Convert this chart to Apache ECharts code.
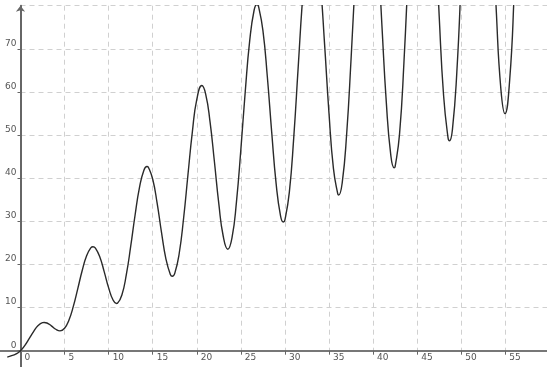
<!DOCTYPE html>
<html>
<head>
<meta charset="utf-8">
<script src="https://cdn.jsdelivr.net/npm/echarts@6/dist/echarts.min.js"></script>
<style>html,body{margin:0;padding:0;background:#fff}#c{width:547px;height:367px}</style>
</head>
<body>
<div id="c"></div>
<script>
// x positions of the traced curve points (including turning points)
var xValues = [-1.5,-1,-0.5,0,0.5,1,1.5,2,2.5,2.695,3,3.5,4,4.48,5,5.5,6,6.5,7,7.5,8,8.22,8.5,9,9.5,10,10.5,10.905,11,11.5,12,12.5,13,13.5,14,14.346,14.5,15,15.5,16,16.5,17,17.22,17.5,18,18.5,19,19.5,20,20.57,21,21.5,22,22.5,23,23.52,24,24.5,25,25.5,26,26.5,26.82,27,27.5,28,28.5,29,29.5,29.81,30,30.5,31,31.5,32,32.5,33,33.5,34,34.5,35,35.5,36,36.1,36.5,37,37.5,38,38.5,39,39.5,40,40.5,41,41.5,42,42.39,42.5,43,43.5,44,44.5,45,45.5,46,46.5,47,47.5,48,48.5,48.67,49,49.5,50,50.5,51,51.5,52,52.5,53,53.5,54,54.5,54.96,55.5,56,56.5,57,57.5,58,58.5,59,59.5,60];
// y values (peaks beyond 80 continue past the top edge)
var yValues = [-1.504,-1.159,-0.760,0,1.240,2.842,4.496,5.819,6.496,6.554,6.423,5.772,4.973,4.600,5.206,7.120,10.324,14.398,18.599,22.035,23.915,24.110,23.787,21.709,18.286,14.560,11.763,10.950,11.000,12.932,17.561,24.171,31.463,37.851,41.868,42.730,42.556,39.755,34.201,27.394,21.255,17.656,17.250,17.927,22.482,30.664,40.848,50.807,58.258,61.490,59.571,53.139,43.804,34.038,26.537,23.540,26.266,34.511,46.690,60.157,71.828,78.946,80.280,79.823,74.264,63.585,50.622,38.756,31.241,29.830,30.360,36.786,49.476,65.649,81.645,93.727,98.997,96.185,85.989,70.984,55.013,42.281,36.295,36.110,38.993,50.191,67.583,87.263,104.643,115.588,117.461,109.804,94.535,75.497,57.581,45.507,42.400,42.666,50.233,66.825,88.779,111.023,128.291,136.432,133.478,120.170,99.809,77.553,59.122,49.412,48.680,51.264,64.578,86.880,112.746,136.180,151.621,155.303,146.433,126.983,102.025,77.825,60.604,54.970,62.893,82.790,110.248,138.863,161.817,173.588,171.311,155.565,130.251,101.712];
// axis windows: labelled quadrant and the full visible window
var xLabelRange = [0, 59.73];
var yLabelRange = [0, 80];
var xFullRange = [-2.326, 59.73];
var yFullRange = [-3.78, 80];

var pts = xValues.map(function (x, i) { return [x, yValues[i]]; });
var chart = echarts.init(document.getElementById('c'), null, {renderer: 'canvas'});
var labelFont = {fontFamily: 'DejaVu Sans', fontSize: 9, color: '#555'};
var dashed = {show: true, lineStyle: {color: '#d0d0d0', type: [5, 4], width: 1}};
chart.setOption({
  animation: false,
  backgroundColor: '#fff',
  grid: [
    {left: 20.5, right: 0, top: 5.7, bottom: 16.3, containLabel: false},
    {left: 0, right: 0, top: 5.7, bottom: 0, containLabel: false,
     outerBounds: {left: -200, right: -200, top: -200, bottom: -200}}
  ],
  xAxis: [{
    gridIndex: 0, type: 'value', min: xLabelRange[0], max: xLabelRange[1], interval: 5,
    axisLine: {show: false},
    axisTick: {show: true, length: 4, lineStyle: {color: '#666', width: 1}},
    axisLabel: Object.assign({align: 'left', margin: 2, padding: [0, 0, 0, 4], showMaxLabel: false}, labelFont),
    splitLine: dashed
  }, {
    gridIndex: 1, type: 'value', min: xFullRange[0], max: xFullRange[1],
    axisLine: {onZero: true, lineStyle: {color: '#777', width: 2}},
    axisTick: {show: false}, axisLabel: {show: false}, splitLine: {show: false}
  }],
  yAxis: [{
    gridIndex: 0, type: 'value', min: yLabelRange[0], max: yLabelRange[1], interval: 10,
    axisLine: {show: false},
    axisTick: {show: true, length: 3, lineStyle: {color: '#666', width: 1}},
    axisLabel: Object.assign({align: 'right', verticalAlign: 'bottom', margin: 4, padding: [0, 0, 1, 0], showMaxLabel: false}, labelFont),
    splitLine: dashed
  }, {
    gridIndex: 1, type: 'value', min: yFullRange[0], max: yFullRange[1],
    axisLine: {onZero: true, lineStyle: {color: '#666', width: 2}, symbol: ['none', 'arrow'], symbolSize: [7, 6]},
    axisTick: {show: false}, axisLabel: {show: false}, splitLine: {show: false}
  }],
  series: [{
    type: 'line', xAxisIndex: 1, yAxisIndex: 1, data: pts, smooth: 0.5, showSymbol: false, clip: true,
    lineStyle: {color: '#2a2a2a', width: 1.4}
  }]
});
</script>
</body>
</html>
